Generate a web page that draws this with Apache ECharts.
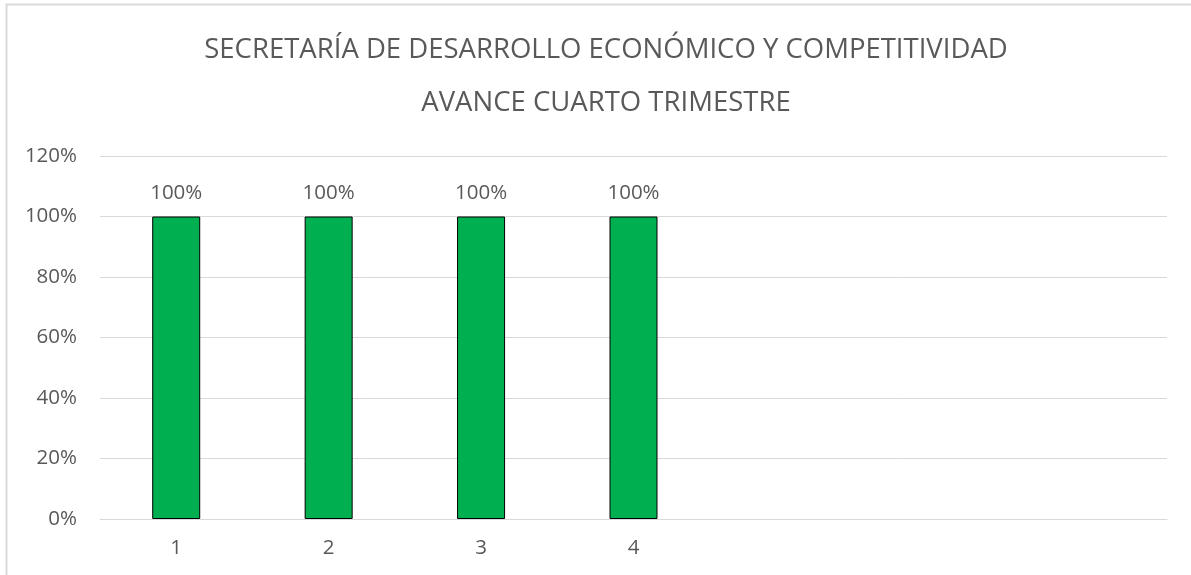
<!DOCTYPE html>
<html>
<head>
<meta charset="utf-8">
<script src="https://cdn.jsdelivr.net/npm/echarts@6/dist/echarts.min.js"></script>
<style>
  html, body { margin: 0; padding: 0; background: #fff; }
  #chart { width: 1191px; height: 575px; }
</style>
</head>
<body>
<div id="chart"></div>
<script>
// categorias del eje x (las tres ultimas van vacias)
const categorias = ['1', '2', '3', '4', '', '', '']
// avance en porcentaje
const avance = [100, 100, 100, 100]
const titulo1 = 'SECRETARÍA DE DESARROLLO ECONÓMICO Y COMPETITIVIDAD'
const titulo2 = 'AVANCE CUARTO TRIMESTRE'

const textColor = '#595959'
const gridColor = '#d9d9d9'
const fontFamily = 'Open Sans'

const chart = echarts.init(document.getElementById('chart'))

chart.setOption({
  animation: false,
  graphic: [{
    type: 'rect',
    shape: { x: 6.5, y: 4.5, width: 1300, height: 700 },
    style: { fill: 'none', stroke: gridColor, lineWidth: 2 },
    silent: true
  }],
  title: [{
    text: titulo1,
    left: 601,
    top: 31,
    textAlign: 'center',
    textStyle: { color: textColor, fontSize: 27.5, fontWeight: 'normal', fontFamily }
  }, {
    text: titulo2,
    left: 601,
    top: 84,
    textAlign: 'center',
    textStyle: { color: textColor, fontSize: 27.5, fontWeight: 'normal', fontFamily }
  }],
  grid: {
    left: 100,
    right: 24,
    top: 156,
    bottom: 56,
    containLabel: false
  },
  xAxis: {
    type: 'category',
    data: categorias,
    axisLine: { lineStyle: { color: gridColor, width: 1 } },
    axisTick: { show: false },
    axisLabel: { color: textColor, fontSize: 20.5, fontFamily, margin: 19 }
  },
  yAxis: {
    type: 'value',
    min: 0,
    max: 120,
    interval: 20,
    axisLine: { show: false },
    axisTick: { show: false },
    splitLine: { lineStyle: { color: gridColor, width: 1 } },
    axisLabel: { color: textColor, fontSize: 20.5, fontFamily, margin: 23, formatter: '{value}%' }
  },
  series: [{
    name: 'Avance',
    type: 'bar',
    data: avance,
    barWidth: 48,
    itemStyle: { color: '#00b050', borderColor: '#000', borderWidth: 1 },
    label: {
      show: true,
      position: 'top',
      distance: 13,
      color: textColor,
      fontSize: 20.5,
      fontFamily,
      formatter: '{c}%'
    }
  }]
})
</script>
</body>
</html>
